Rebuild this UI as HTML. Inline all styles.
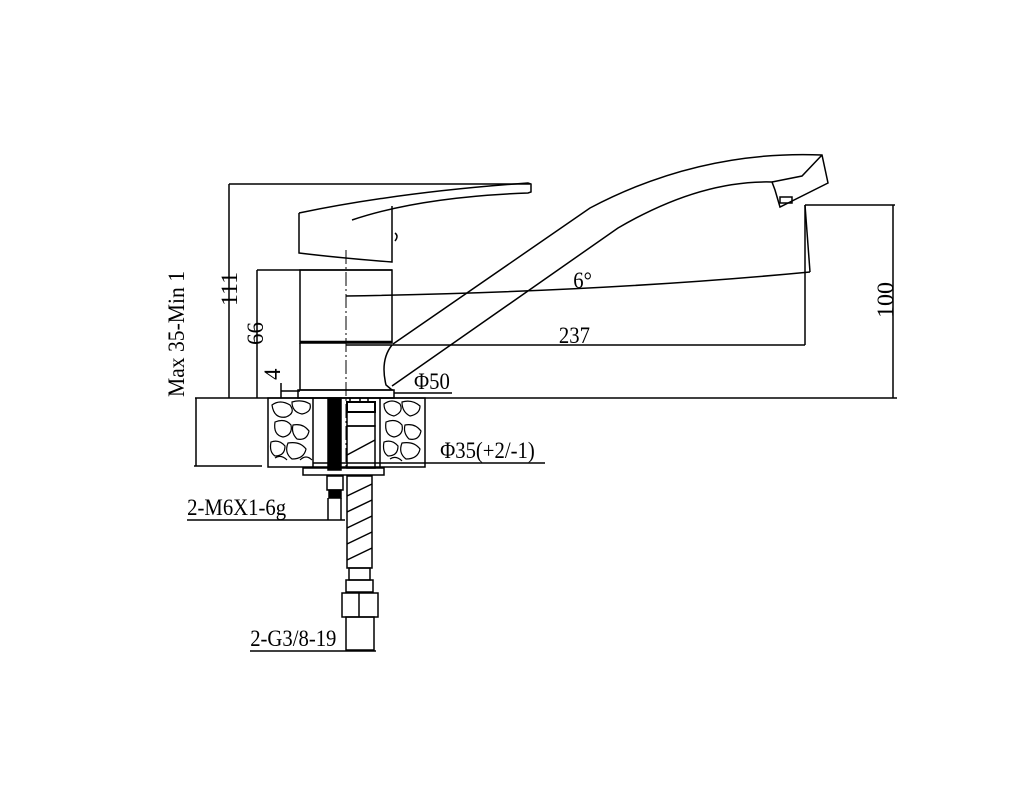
<!DOCTYPE html>
<html><head><meta charset="utf-8"><style>
html,body{margin:0;padding:0;background:#fff;width:1024px;height:800px;overflow:hidden}
text{font-family:"Liberation Serif",serif;font-size:23px;fill:#000}
</style></head><body>
<svg width="1024" height="800" viewBox="0 0 1024 800" xmlns="http://www.w3.org/2000/svg">
<g stroke="#000" fill="none" stroke-width="1.5">
<line x1="195" y1="398" x2="897" y2="398"/>
<line x1="196" y1="398" x2="196" y2="466"/>
<line x1="194" y1="466" x2="262" y2="466"/>
<line x1="229" y1="184" x2="229" y2="398"/>
<line x1="229" y1="184" x2="530" y2="184"/>
<line x1="257" y1="270" x2="257" y2="398"/>
<line x1="257" y1="270" x2="392" y2="270"/>
<line x1="281" y1="383" x2="281" y2="398"/>
<line x1="281" y1="391" x2="300" y2="391"/>
<path d="M299 213 Q400 192 528 183 L531 184 L531 192 L528 193 Q420 197 352 220"/>
<path d="M299 213 L299 253 Q340 258 392 262 L392 206"/>
<path d="M395 233 q4 3 0 8"/>
<rect x="300" y="270" width="92" height="73"/>
<line x1="300" y1="342" x2="392" y2="342" stroke-width="2.5"/>
<path d="M300 343 L300 390 L393 390"/>
<rect x="298" y="390" width="96" height="8"/>
<line x1="346" y1="250" x2="346" y2="470" stroke-dasharray="14 3 2 3" stroke-width="1"/>
<path d="M392 345 Q380 360 386 385 L392 390"/>
<path d="M393 344 L590 208 Q700 150 822 155 L828 183 L780 207 L775 190 L772 182 Q700 180 618 228 L392 386"/>
<path d="M772 182 L802 176 L822 155"/>
<rect x="780" y="197" width="12" height="6"/>
<path d="M346 296 Q600 292 810 272"/>
<line x1="805" y1="205" x2="810" y2="272"/>
<line x1="346" y1="345" x2="805" y2="345"/>
<line x1="805" y1="205" x2="805" y2="345"/>
<line x1="805" y1="205" x2="895" y2="205"/>
<line x1="893" y1="205" x2="893" y2="398"/>
<line x1="394" y1="393" x2="452" y2="393"/>
<rect x="268" y="398" width="157" height="69"/>
<line x1="313" y1="398" x2="313" y2="467"/>
<line x1="380" y1="398" x2="380" y2="467"/>
<g stroke-width="1.2">
<path d="M272 405 q8-6 18 0 q6 8-4 12 q-12 2-14-12z M292 402 q10-3 18 2 q2 8-8 10 q-10-2-10-12z M275 422 q10-4 16 3 q2 10-8 12 q-10-2-8-15z M293 425 q10-2 16 6 q-2 10-12 8 q-6-6-4-14z M271 442 q8-3 14 4 q0 10-10 10 q-6-4-4-14z M288 443 q12-2 18 6 q-2 10-14 10 q-8-6-4-16z M275 458 q6-4 12 2 M300 460 q6-6 12 0"/>
<path d="M384 404 q8-6 16 0 q4 8-6 12 q-10-2-10-12z M402 402 q10-3 18 4 q0 8-10 10 q-8-4-8-14z M386 422 q10-4 16 3 q2 10-8 12 q-10-2-8-15z M405 425 q10-2 16 6 q-2 10-12 8 q-6-6-4-14z M384 442 q8-3 14 4 q0 10-10 10 q-6-4-4-14z M402 443 q12-2 18 6 q-2 10-14 10 q-8-6-4-16z M390 459 q6-4 12 2"/>
</g>
<rect x="328" y="398" width="13" height="72" fill="#000"/>
<rect x="347" y="402" width="28" height="10" stroke-width="2"/>
<rect x="347" y="412" width="28" height="14"/>
<rect x="347" y="426" width="28" height="42"/>
<line x1="347" y1="455" x2="375" y2="440"/>
<line x1="350" y1="398" x2="350" y2="402"/><line x1="360" y1="398" x2="360" y2="402"/><line x1="368" y1="398" x2="368" y2="402"/>
<line x1="313" y1="463" x2="545" y2="463"/>
<rect x="303" y="468" width="81" height="7"/>
<rect x="327" y="476" width="16" height="14"/>
<rect x="329" y="490" width="12" height="8" fill="#000"/>
<line x1="328" y1="498" x2="328" y2="520"/>
<line x1="341" y1="498" x2="341" y2="520"/>
<line x1="187" y1="520" x2="345" y2="520"/>
<rect x="347" y="476" width="25" height="92"/>
<path d="M347 496 l25-12 M347 512 l25-12 M347 528 l25-12 M347 544 l25-12 M347 560 l25-12"/>
<rect x="349" y="568" width="21" height="12"/>
<rect x="346" y="580" width="27" height="12"/>
<rect x="342" y="593" width="36" height="24"/>
<line x1="359" y1="593" x2="359" y2="617"/>
<rect x="346" y="617" width="28" height="33"/>
<line x1="250" y1="651" x2="376" y2="651"/>
</g>
<g transform="scale(0.9 1)">
<text x="637" y="288">6°</text>
<text x="621" y="343">237</text>
<text x="460" y="389">Φ50</text>
<text x="489" y="458">Φ35(+2/-1)</text>
<text x="208" y="515">2-M6X1-6g</text>
<text x="278" y="646">2-G3/8-19</text>
</g>
<text x="184" y="397" transform="rotate(-90 184 397)" textLength="126" lengthAdjust="spacingAndGlyphs">Max 35-Min 1</text>
<text x="237" y="306" transform="rotate(-90 237 306)" textLength="34" lengthAdjust="spacingAndGlyphs">111</text>
<text x="263" y="345" transform="rotate(-90 263 345)">66</text>
<text x="280" y="380" transform="rotate(-90 280 380)">4</text>
<text x="893" y="318" transform="rotate(-90 893 318)" textLength="36" lengthAdjust="spacingAndGlyphs">100</text>
</svg>
</body></html>
